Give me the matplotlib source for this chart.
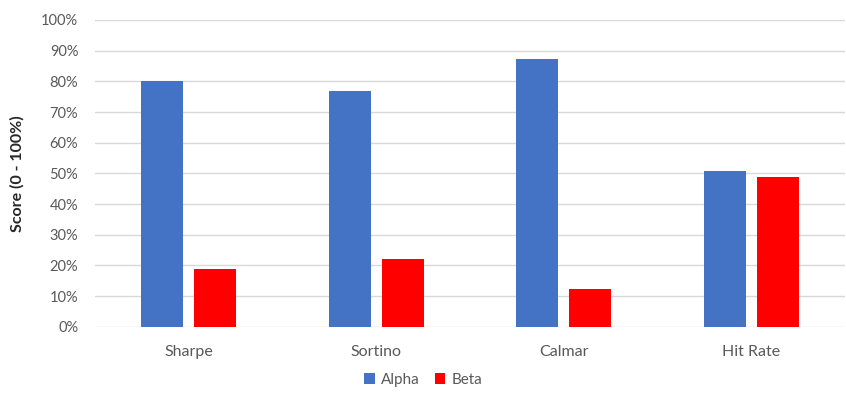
import matplotlib
matplotlib.use("Agg")
import matplotlib.pyplot as plt
import numpy as np
from matplotlib.ticker import PercentFormatter

categories = ["Sharpe", "Sortino", "Calmar", "Hit Rate"]
alpha = [80.2, 77.0, 87.3, 50.8]
beta = [18.8, 22.1, 12.4, 48.9]
yticks = list(range(0, 101, 10))

plt.rcParams['font.family'] = ['Lato', 'DejaVu Sans']

fig = plt.figure(figsize=(8.46, 3.99), dpi=100)
ax = fig.add_axes([0.1123, 0.1812, 0.8865, 0.7687])

x = np.arange(len(categories))
w = 0.224
off = 0.1415
ax.bar(x - off, alpha, w, color="#4472C4", label="Alpha", zorder=3)
ax.bar(x + off, beta, w, color="#FF0000", label="Beta", zorder=3)

ax.set_xlim(-0.5, len(categories) - 0.5)
ax.set_ylim(0, 100)
ax.set_yticks(yticks)
ax.yaxis.set_major_formatter(PercentFormatter(decimals=0))
ax.grid(axis="y", color="#D9D9D9", linewidth=1, zorder=0)
for s in ax.spines.values():
    s.set_visible(False)
ax.tick_params(axis="both", length=0, labelsize=10.5, labelcolor="#595959")
ax.tick_params(axis="y", pad=12)
ax.tick_params(axis="x", pad=13, labelsize=11.5)
ax.set_xticks(x)
ax.set_xticklabels(categories)
ax.set_ylabel("Score (0 - 100%)", fontsize=11.5, fontweight="bold", color="#262626", labelpad=12)

handles, labels = ax.get_legend_handles_labels()
fig.legend(handles, labels, loc="center", bbox_to_anchor=(0.5, 0.048), ncol=2, frameon=False,
           fontsize=11, handlelength=0.7, handleheight=0.7, handletextpad=0.4,
           columnspacing=1.0, labelcolor="#595959")

fig.savefig("out.png", dpi=100)
